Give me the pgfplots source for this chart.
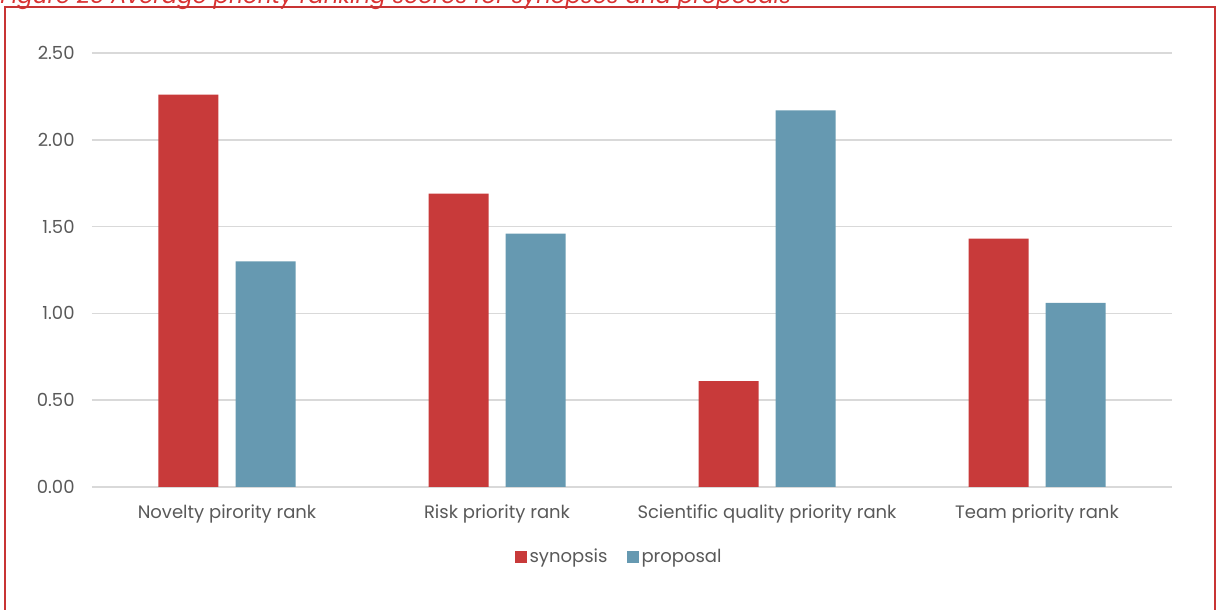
\documentclass[border=0pt]{standalone}
\usepackage{fontspec}
\setmainfont{Poppins}
\usepackage{pgfplots}
\pgfplotsset{compat=1.18}

\definecolor{synred}{RGB}{200,58,58}
\definecolor{propblue}{RGB}{102,153,177}
\definecolor{gridgray}{RGB}{217,217,217}
\definecolor{txtgray}{RGB}{89,89,89}
\definecolor{framered}{RGB}{200,52,52}
\definecolor{titlered}{RGB}{218,50,50}

\pgfplotstableread{
idx synopsis proposal
0   2.26     1.30
1   1.69     1.46
2   0.61     2.17
3   1.43     1.06
}\rankdata

\begin{document}
\begin{tikzpicture}
\useasboundingbox (0,0) rectangle (608pt,305pt);
\begin{scope}
\clip (0,0) rectangle (608pt,305pt);
% caption line, only its lower part lies on the page
\node[anchor=base west, inner sep=0pt, text=titlered, font=\itshape\fontsize{11.4pt}{13pt}\selectfont]
  at (0pt,303.4pt) {Figure 25 Average priority ranking scores for synopses and proposals};
% frame round the chart
\draw[framered, line width=1pt] (2.5pt,-5pt) -- (2.5pt,301.5pt) -- (607.5pt,301.5pt) -- (607.5pt,-5pt);
\end{scope}

\begin{axis}[
  at={(46pt,61.5pt)}, anchor=south west,
  scale only axis, width=540pt, height=217pt,
  xmin=-0.5, xmax=3.5, ymin=0, ymax=2.5,
  axis line style={draw=none},
  tick style={draw=none},
  ymajorgrids, major grid style={gridgray, line width=0.75pt},
  ytick={0,0.5,1,1.5,2,2.5},
  /pgf/number format/fixed, /pgf/number format/fixed zerofill,
  /pgf/number format/precision=2, /pgf/number format/assume math mode=true,
  yticklabel style={anchor=east, inner sep=0pt, xshift=-8.5pt, text=txtgray, font=\fontsize{9pt}{11pt}\selectfont},
  xtick={0,1,2,3},
  xticklabels={Novelty pirority rank, Risk priority rank, Scientific quality priority rank, Team priority rank},
  xticklabel style={anchor=north, inner sep=0pt, yshift=-8.5pt, text=txtgray, font=\fontsize{9pt}{11pt}\selectfont},
  legend columns=2,
  legend style={at={(0.4885,-0.1613)}, anchor=center, draw=none, fill=none,
    font=\fontsize{9pt}{11pt}\selectfont, text=txtgray,
    /tikz/every even column/.append style={column sep=8pt},
    nodes={inner sep=1.5pt}},
]
\addplot[ybar, bar width=30pt, bar shift=-19.25pt, fill=synred, draw=none,
  legend image code/.code={\fill[synred] (0pt,-3pt) rectangle (6pt,3pt);}]
  table[x=idx, y=synopsis] {\rankdata};
\addlegendentry{synopsis}
\addplot[ybar, bar width=30pt, bar shift=19.25pt, fill=propblue, draw=none,
  legend image code/.code={\fill[propblue] (0pt,-3pt) rectangle (6pt,3pt);}]
  table[x=idx, y=proposal] {\rankdata};
\addlegendentry{proposal}
\end{axis}
\end{tikzpicture}
\end{document}
